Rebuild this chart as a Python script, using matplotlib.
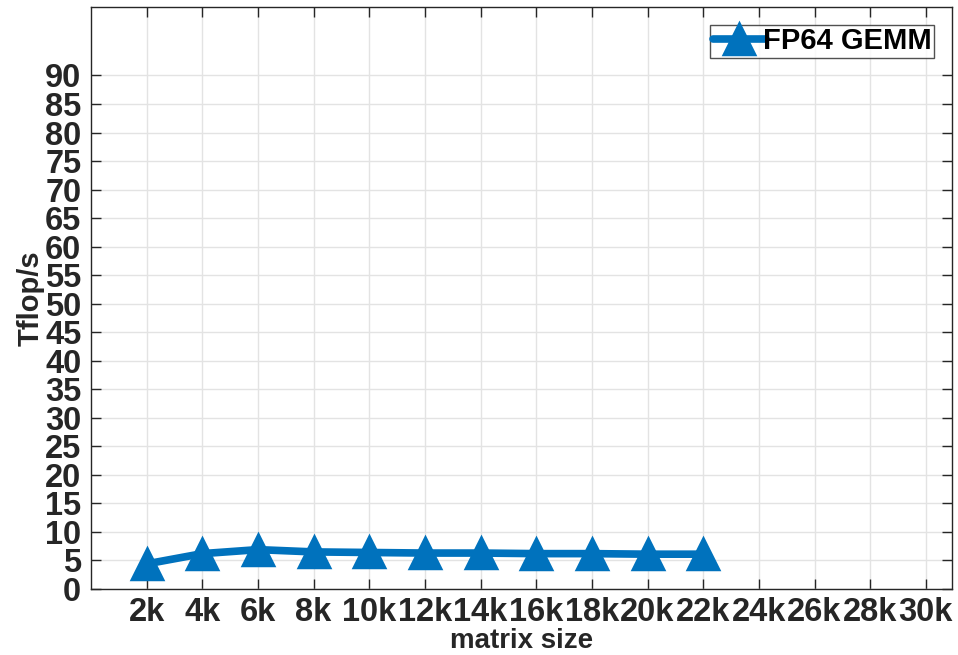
import matplotlib
matplotlib.use('Agg')
import matplotlib.pyplot as plt

sizes = [2, 4, 6, 8, 10, 12, 14, 16, 18, 20, 22]
tflops = [4.4, 6.2, 6.9, 6.5, 6.4, 6.3, 6.3, 6.2, 6.2, 6.1, 6.1]
xticks = [2, 4, 6, 8, 10, 12, 14, 16, 18, 20, 22, 24, 26, 28, 30]
xticklabels = ['{}k'.format(t) for t in xticks]
yticks = list(range(0, 95, 5))

plt.rcParams['font.family'] = ['Liberation Sans', 'DejaVu Sans']
plt.rcParams['font.weight'] = 'bold'

fig = plt.figure(figsize=(9.58, 6.55), dpi=100)
ax = fig.add_axes([91 / 958, 1 - 589 / 655, (952 - 91) / 958, (589 - 7) / 655])

ax.plot(sizes, tflops, color='#0072BD', linewidth=5.5, marker='^',
        markersize=21, markeredgewidth=2.5, label='FP64 GEMM',
        solid_capstyle='round', solid_joinstyle='round')

ax.set_xlim(0, 30.94)
ax.set_ylim(0, 102)
ax.set_xticks(xticks)
ax.set_xticklabels(xticklabels)
ax.set_yticks(yticks)
ax.grid(True, color='#e3e3e3', linewidth=1)
ax.set_axisbelow(True)
ax.tick_params(direction='in', top=True, right=True, length=7, width=1,
               colors='#262626', labelsize=23.5, pad=7)
ax.tick_params(axis='x', pad=6)
for s in ax.spines.values():
    s.set_color('#262626')
    s.set_linewidth(1)

ax.set_xlabel('matrix size', fontsize=20, fontweight='bold', color='#262626',
              labelpad=-0.5)
ax.set_ylabel('Tflop/s', fontsize=21, fontweight='bold', color='#262626',
              labelpad=0)

leg = ax.legend(loc='upper right', fontsize=21, frameon=True, fancybox=False,
                edgecolor='#262626', handlelength=1.8, handletextpad=-0.1,
                borderpad=0.1, borderaxespad=0.6, markerscale=1.0)
leg.get_frame().set_linewidth(1)

fig.savefig('out.png', dpi=100)
